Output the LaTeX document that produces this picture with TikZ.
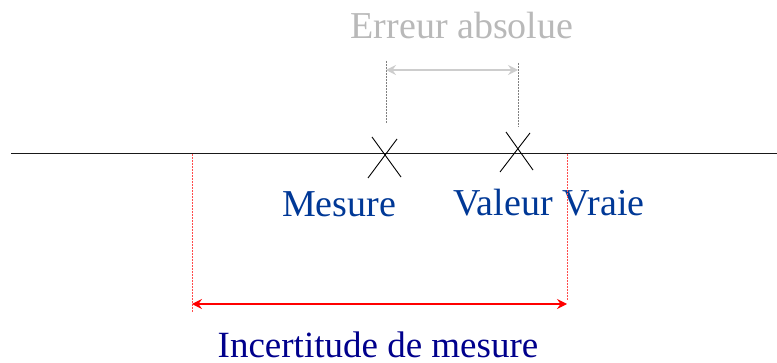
\documentclass[tikz,border=0pt]{standalone}
\usepackage{fontspec}
\setmainfont{Liberation Serif}
\usetikzlibrary{arrows.meta}
\definecolor{lblue}{RGB}{0,56,150}
\definecolor{dblue}{RGB}{0,0,140}
\definecolor{lgray}{RGB}{205,205,205}
\definecolor{tgray}{RGB}{185,185,185}
\tikzset{
  lbl/.style={font=\fontsize{38}{42}\selectfont, inner sep=0pt, anchor=base},
  guide/.style={densely dotted, line width=0.5pt},
  dim/.style={{Stealth[length=10pt,width=10pt,inset=3.5pt]}-{Stealth[length=10pt,width=10pt,inset=3.5pt]}, line width=1.2pt},
  crossline/.style={line width=0.9pt, black}
}
\begin{document}
\begin{tikzpicture}[x=1pt,y=-1pt]
\useasboundingbox (0,0) rectangle (777,363);
% main axis
\coordinate (L) at (11,154);
\coordinate (R) at (777,154);
\draw[line width=1pt, black!90] (L) -- (R);
% crosses
\coordinate (m1) at (372,137); \coordinate (m2) at (401,177);
\coordinate (m3) at (397,139); \coordinate (m4) at (368,178);
\draw[crossline] (m1) -- (m2);
\draw[crossline] (m3) -- (m4);
\coordinate (v1) at (506,132); \coordinate (v2) at (533,170);
\coordinate (v3) at (530,133); \coordinate (v4) at (500,172);
\draw[crossline] (v1) -- (v2);
\draw[crossline] (v3) -- (v4);
% absolute error
\coordinate (ga1) at (386,61); \coordinate (ga2) at (386,124);
\coordinate (gb1) at (518,63); \coordinate (gb2) at (518,127);
\draw[guide, gray] (ga1) -- (ga2);
\draw[guide, gray] (gb1) -- (gb2);
\coordinate (ea) at (386,70); \coordinate (eb) at (518,70);
\draw[dim, lgray] (ea) -- (eb);
\node[lbl, text=tgray] (err) at (462,39) {Erreur absolue};
% labels
\node[lbl, text=lblue] (mes) at (339,217) {Mesure};
\node[lbl, text=lblue] (vv) at (549,216) {Valeur Vraie};
% uncertainty
\coordinate (ra1) at (192,154); \coordinate (ra2) at (192,313);
\coordinate (rb1) at (567,154); \coordinate (rb2) at (567,300);
\draw[guide, red!70] (ra1) -- (ra2);
\draw[guide, red!70] (rb1) -- (rb2);
\coordinate (ia) at (192,304); \coordinate (ib) at (567,304);
\draw[dim, red] (ia) -- (ib);
\node[lbl, text=dblue, font=\fontsize{37}{41}\selectfont, text depth=0pt] (inc) at (378,358) {Incertitude de mesure};
\end{tikzpicture}
\end{document}
